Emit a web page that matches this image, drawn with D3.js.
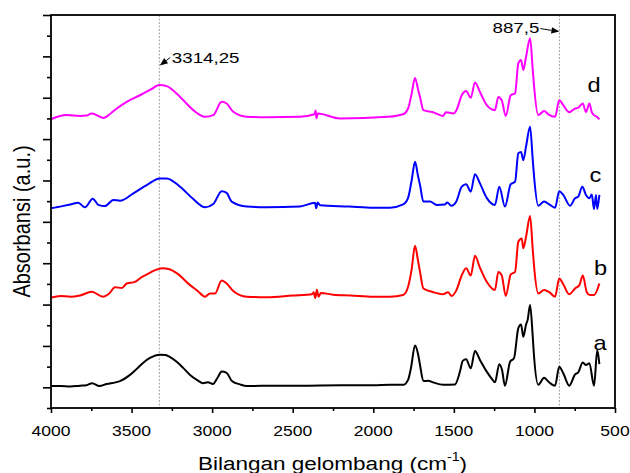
<!DOCTYPE html>
<html><head><meta charset="utf-8">
<script src="https://cdn.jsdelivr.net/npm/d3@7"></script>
<style>
body{margin:0;background:#fff}
svg{display:block}
text{font-family:"Liberation Sans",Arial,sans-serif;fill:#000}
</style>
</head><body>
<svg id="chart" width="630" height="473"></svg>
<script>
// ---------- data ----------
const seriesNames = ['a', 'b', 'c', 'd'];
const seriesColors = ['#000000', '#ff0000', '#0000ff', '#ff00ff'];

// [wavenumber (cm-1), absorbance (a.u., stacked)]
const seriesA = [[4000,0.03],[3940,0.03],[3880,0.02],[3820,0.04],[3780,0.05],[3745,0.10],[3700,0.03],[3654,0.08],[3600,0.12],[3572,0.15],[3510,0.30],[3470,0.44],[3429,0.59],[3386,0.71],[3324,0.79],[3290,0.78],[3261,0.73],[3220,0.62],[3180,0.47],[3137,0.30],[3090,0.17],[3057,0.10],[3026,0.12],[2995,0.08],[2964,0.25],[2941,0.38],[2910,0.35],[2879,0.16],[2827,0.07],[2785,0.03],[2600,0.04],[2455,0.04],[2200,0.05],[2000,0.05],[1896,0.06],[1815,0.06],[1784,0.18],[1766,0.47],[1741,1.01],[1722,0.80],[1710,0.54],[1689,0.15],[1660,0.16],[1629,0.12],[1567,0.06],[1493,0.07],[1462,0.38],[1445,0.64],[1424,0.68],[1395,0.46],[1369,0.88],[1338,0.66],[1296,0.38],[1263,0.20],[1245,0.12],[1218,0.56],[1201,0.42],[1183,0.04],[1151,0.62],[1127,0.70],[1100,1.43],[1083,1.52],[1069,1.22],[1052,1.52],[1042,1.63],[1027,1.99],[1011,1.26],[1003,0.78],[976,0.06],[940,0.23],[914,0.14],[872,0.04],[846,0.50],[821,0.34],[784,0.04],[748,0.31],[728,0.36],[700,0.60],[680,0.54],[659,0.58],[630,0.04],[610,0.90],[597,0.56]];

const seriesB = [[4000,2.17],[3940,2.21],[3880,2.19],[3820,2.22],[3747,2.31],[3677,2.19],[3640,2.26],[3603,2.42],[3560,2.40],[3530,2.51],[3479,2.55],[3435,2.67],[3390,2.76],[3350,2.84],[3310,2.88],[3270,2.86],[3220,2.76],[3137,2.47],[3090,2.33],[3044,2.19],[3013,2.27],[2982,2.27],[2941,2.58],[2910,2.51],[2869,2.33],[2785,2.19],[2661,2.18],[2500,2.22],[2380,2.25],[2370,2.30],[2360,2.16],[2350,2.36],[2340,2.19],[2325,2.28],[2250,2.24],[2140,2.22],[2000,2.19],[1896,2.19],[1815,2.23],[1784,2.43],[1762,2.85],[1741,3.42],[1722,3.05],[1710,2.79],[1689,2.39],[1629,2.30],[1567,2.25],[1536,2.30],[1515,2.21],[1484,2.35],[1451,2.71],[1424,2.88],[1395,2.70],[1369,3.18],[1338,2.89],[1296,2.55],[1245,2.35],[1224,2.79],[1203,2.71],[1178,2.21],[1147,2.73],[1120,2.79],[1100,3.52],[1079,3.60],[1069,3.36],[1052,3.64],[1027,4.14],[1011,3.36],[1003,2.96],[976,2.27],[940,2.35],[908,2.30],[872,2.19],[846,2.63],[821,2.49],[784,2.25],[748,2.39],[721,2.47],[700,2.70],[675,2.30],[656,2.23],[630,2.23],[597,2.51]];

const seriesC = [[4000,4.33],[3930,4.38],[3880,4.42],[3831,4.46],[3789,4.35],[3741,4.56],[3706,4.41],[3665,4.38],[3613,4.53],[3572,4.51],[3489,4.69],[3406,4.89],[3324,5.05],[3282,5.05],[3199,4.85],[3117,4.55],[3044,4.35],[2993,4.43],[2941,4.74],[2910,4.70],[2879,4.49],[2785,4.37],[2660,4.35],[2455,4.37],[2362,4.46],[2354,4.33],[2346,4.47],[2330,4.40],[2150,4.37],[2000,4.34],[1896,4.34],[1815,4.42],[1784,4.58],[1762,5.00],[1741,5.45],[1722,5.10],[1710,4.89],[1689,4.49],[1648,4.49],[1606,4.41],[1555,4.42],[1541,4.47],[1515,4.39],[1484,4.50],[1451,4.85],[1424,4.91],[1395,4.73],[1369,5.15],[1338,4.93],[1296,4.58],[1245,4.41],[1218,4.85],[1183,4.37],[1147,4.91],[1120,4.97],[1100,5.66],[1083,5.69],[1069,5.49],[1052,5.82],[1027,6.30],[1011,5.53],[1003,5.13],[976,4.39],[940,4.49],[908,4.42],[872,4.34],[846,4.74],[821,4.65],[779,4.39],[748,4.57],[728,4.61],[703,4.85],[680,4.65],[659,4.57],[644,4.66],[630,4.31],[618,4.65],[610,4.31],[597,4.65]];

const seriesD = [[4000,6.48],[3903,6.58],[3820,6.56],[3780,6.57],[3747,6.62],[3675,6.51],[3630,6.62],[3592,6.74],[3530,6.90],[3448,7.06],[3380,7.20],[3328,7.31],[3282,7.28],[3199,7.02],[3117,6.70],[3044,6.54],[2993,6.58],[2941,6.90],[2910,6.86],[2869,6.66],[2785,6.54],[2661,6.53],[2455,6.54],[2365,6.60],[2358,6.69],[2352,6.50],[2345,6.62],[2207,6.50],[1907,6.54],[1815,6.60],[1784,6.74],[1762,7.10],[1741,7.48],[1722,7.20],[1710,7.02],[1689,6.70],[1629,6.65],[1567,6.56],[1549,6.65],[1503,6.62],[1484,6.70],[1451,7.06],[1424,7.16],[1395,7.00],[1369,7.37],[1338,7.14],[1296,6.82],[1245,6.70],[1224,7.02],[1203,6.94],[1178,6.56],[1147,7.06],[1120,7.11],[1100,7.83],[1083,7.91],[1069,7.67],[1052,7.99],[1027,8.44],[1011,7.71],[1003,7.31],[976,6.58],[940,6.68],[914,6.60],[872,6.54],[846,6.94],[821,6.82],[784,6.65],[748,6.74],[728,6.76],[700,6.86],[680,6.65],[659,6.86],[644,6.65],[630,6.58],[613,6.54],[597,6.48]];

const xMajorTicks = [4000, 3500, 3000, 2500, 2000, 1500, 1000, 500];
const xTickLabels = ['4000', '3500', '3000', '2500', '2000', '1500', '1000', '500'];
const xMinorTicks = [3750, 3250, 2750, 2250, 1750, 1250, 750];
const yMajorTicks = [0, 1, 2, 3, 4, 5, 6, 7, 8, 9];
const yMinorTicks = [-0.5, 0.5, 1.5, 2.5, 3.5, 4.5, 5.5, 6.5, 7.5, 8.5];
const markerPositions = [3328, 845];
const markerLabels = ['3314,25', '887,5'];
const xTitleMain = 'Bilangan gelombang (cm';
const xTitleSup = '-1';
const xTitleEnd = ')';
const yTitle = 'Absorbansi (a.u.)';

// ---------- layout ----------
const svg = d3.select('#chart');
const L = 51, R = 615, T = 15, B = 408;
const x = d3.scaleLinear().domain([4000, 500]).range([L, R]);
const y = d3.scaleLinear().domain([-0.5, 9]).range([B, T]);

// marker (dashed) lines
svg.append('g').selectAll('line').data(markerPositions).join('line')
  .attr('x1', d => x(d)).attr('x2', d => x(d))
  .attr('y1', T).attr('y2', B)
  .attr('stroke', '#a0a0a0').attr('stroke-width', 1)
  .attr('stroke-dasharray', '2,1.5');

// spectra
const allSeries = [seriesA, seriesB, seriesC, seriesD];
const line = d3.line().x(d => x(d[0])).y(d => y(d[1])).curve(d3.curveMonotoneX);
svg.append('g').selectAll('path').data(allSeries).join('path')
  .attr('d', line)
  .attr('fill', 'none')
  .attr('stroke', (d, i) => seriesColors[i])
  .attr('stroke-width', 2)
  .attr('stroke-linejoin', 'round');

// axes
const xAxisMajor = d3.axisBottom(x).tickValues(xMajorTicks).tickSize(5).tickFormat('');
const xAxisMinor = d3.axisBottom(x).tickValues(xMinorTicks).tickSize(3).tickFormat('');
const yAxisMajor = d3.axisLeft(y).tickValues(yMajorTicks).tickSize(8).tickFormat('');
const yAxisMinor = d3.axisLeft(y).tickValues(yMinorTicks).tickSize(4).tickFormat('');
[[xAxisMajor, `translate(0,${B})`], [xAxisMinor, `translate(0,${B})`],
 [yAxisMajor, `translate(${L},0)`], [yAxisMinor, `translate(${L},0)`]].forEach(([ax, tr]) => {
  const g = svg.append('g').attr('transform', tr).call(ax);
  g.select('.domain').remove();
  g.selectAll('line').attr('stroke', '#000').attr('stroke-width', 1.6);
});

// frame
svg.append('rect').attr('x', L).attr('y', T).attr('width', R - L).attr('height', B - T)
  .attr('fill', 'none').attr('stroke', '#000').attr('stroke-width', 1.8);

// x tick labels
svg.append('g').selectAll('text').data(xMajorTicks).join('text')
  .attr('transform', d => `translate(${x(d)},435.5) scale(1.17,1)`)
  .attr('text-anchor', 'middle').attr('font-size', 15)
  .text((d, i) => xTickLabels[i]);

// axis titles
const xt = svg.append('text')
  .attr('transform', 'translate(332.5,469.5) scale(1.185,1)')
  .attr('text-anchor', 'middle').attr('font-size', 19);
xt.append('tspan').text(xTitleMain);
xt.append('tspan').attr('font-size', 12).attr('dy', -9).text(xTitleSup);
xt.append('tspan').attr('dy', 9).text(xTitleEnd);

svg.append('text')
  .attr('transform', 'translate(29.5,221.5) scale(1.18,1) rotate(-90)')
  .attr('text-anchor', 'middle').attr('font-size', 20)
  .text(yTitle);

// series labels
const labelPos = [[600, 350], [600.5, 275], [595.5, 181.7], [594, 92]];
svg.append('g').selectAll('text').data(seriesNames).join('text')
  .attr('transform', (d, i) => `translate(${labelPos[i][0]},${labelPos[i][1]}) scale(1.18,1)`)
  .attr('text-anchor', 'middle').attr('font-size', 20)
  .text(d => d);

// annotations with arrows
function arrow(x1, y1, x2, y2) {
  const ang = Math.atan2(y2 - y1, x2 - x1), len = 8, w = 3.2;
  const bx = x2 - len * Math.cos(ang), by = y2 - len * Math.sin(ang);
  svg.append('line').attr('x1', x1).attr('y1', y1).attr('x2', bx).attr('y2', by)
    .attr('stroke', '#000').attr('stroke-width', 1);
  const px = -Math.sin(ang) * w, py = Math.cos(ang) * w;
  svg.append('path')
    .attr('d', `M${x2},${y2}L${bx + px},${by + py}L${bx - px},${by - py}Z`)
    .attr('fill', '#000');
}
const m0 = x(markerPositions[0]);
arrow(m0 + 11, 57.5, m0 + 0.5, 65.5);
svg.append('text').attr('transform', `translate(${m0 + 12.5},63.3) scale(1.25,1)`)
  .attr('font-size', 15).text(markerLabels[0]);

const m1 = x(markerPositions[1]);
arrow(m1 - 19, 28.6, m1, 31.6);
svg.append('text').attr('transform', `translate(${m1 - 20},33.3) scale(1.25,1)`)
  .attr('text-anchor', 'end').attr('font-size', 15).text(markerLabels[1]);
</script>
</body></html>
